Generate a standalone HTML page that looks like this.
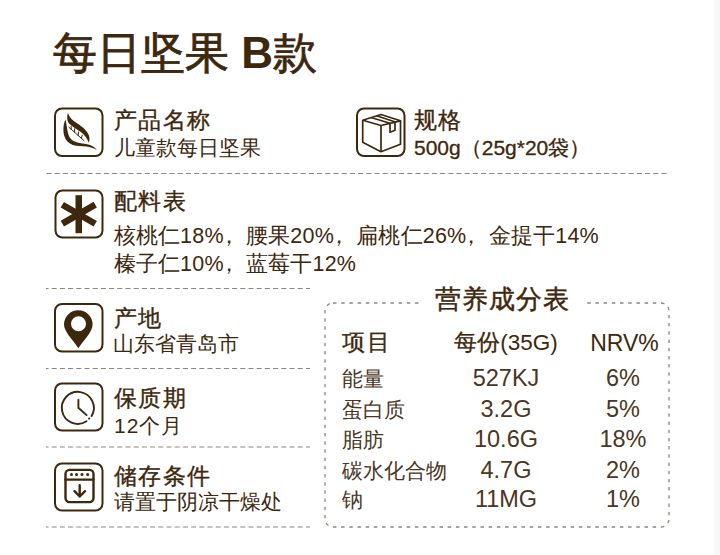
<!DOCTYPE html>
<html><head><meta charset="utf-8">
<style>
html,body{margin:0;padding:0;background:#fff;}
body{width:720px;height:555px;position:relative;overflow:hidden;font-family:"Liberation Sans",sans-serif;color:#3d280e;}
.t{position:absolute;white-space:nowrap;line-height:1;}
.title{left:53px;top:30.5px;font-size:44px;-webkit-text-stroke:0.8px #3d280e;}
.title b{-webkit-text-stroke:0;}
.lab{font-size:22.5px;letter-spacing:1.4px;-webkit-text-stroke:0.35px #3d280e;}
.sub{font-size:21px;}
.l3{font-size:21.5px;letter-spacing:0.2px;}
.ntitle{font-size:26px;letter-spacing:1.1px;-webkit-text-stroke:0.45px #3d280e;}
.th{font-size:22.5px;}
.md{-webkit-text-stroke:0.3px #3d280e;}
.td{font-size:21px;color:#4a3623;}
.num{font-size:23.5px;width:200px;color:#4a3623;}
.c{text-align:center;}
.cm{position:relative;left:-6px;}
svg{position:absolute;left:0;top:0;}
</style></head><body>
<div style="position:absolute;left:714px;top:0;width:6px;height:555px;background:#f8f8f8"></div>
<svg width="720" height="555" viewBox="0 0 720 555">
 <g fill="none" stroke="#8e877c" stroke-width="1.2">
  <line x1="46.5" y1="173.5" x2="668" y2="173.5" stroke-dasharray="5 3.2"/>
  <line x1="46" y1="288.5" x2="310" y2="288.5" stroke-dasharray="5 3.2" stroke-dashoffset="2.5"/>
  <line x1="46" y1="368.5" x2="310" y2="368.5" stroke-dasharray="5 3.2" stroke-dashoffset="2.5"/>
  <line x1="46" y1="447" x2="310" y2="447" stroke-dasharray="5 3.2" stroke-dashoffset="2.5"/>
  <line x1="46" y1="527" x2="310" y2="527" stroke-dasharray="5 3.2" stroke-dashoffset="2.5"/>
 </g>
 <rect x="322" y="295" width="352" height="240" fill="#fff"/>
 <rect x="325" y="303" width="344" height="224" rx="8" ry="8" fill="none" stroke="#8e877c" stroke-width="1.3" stroke-dasharray="3.5 4.7"/>
 <rect x="420" y="285" width="165" height="30" fill="#fff"/>
 <!-- icon boxes -->
 <g fill="none" stroke="#3d280e" stroke-width="2">
  <rect x="55" y="108.5" width="47.5" height="47.5" rx="7"/>
  <rect x="357" y="108.5" width="47.5" height="47.5" rx="7"/>
  <rect x="55.5" y="190.5" width="47" height="47" rx="7"/>
  <rect x="55" y="304" width="47.5" height="47.5" rx="7"/>
  <rect x="55" y="383.5" width="47.5" height="47" rx="7"/>
  <rect x="55" y="463.5" width="47.5" height="47" rx="7"/>
 </g>
 <!-- leaf -->
 <g fill="#3d280e">
  <path d="M67.9 112.8 C69.2 117.5 72.5 120.5 77.5 123.6 C82.5 127 87.5 131 89 135.8 C89.8 138.5 89.6 140.8 88.9 142.8 C87.4 139 85 135.3 81.5 132.6 C77.5 129.5 71.5 126.3 68.8 123.2 C66.8 120.6 66.8 116.5 67.9 112.8 Z"/>
  <path d="M65.5 119.6 C62.9 125 63 132 64.4 136.3 C66 141 68.8 143.5 72.8 145 C77 146.3 82 146 86 146.4 C90 146.9 94 148 97 150.2 C94.7 146.8 90.5 145 86 144.1 C81 143.2 77.3 143 74 141.3 C70.5 139.4 68.7 136.5 67.9 132.8 C67 128.8 66.5 124 65.5 119.6 Z"/>
 </g>
 <g fill="none" stroke="#3d280e" stroke-width="1" stroke-linecap="round">
  <path d="M68.8 127.2 L84 140.6"/>
  <path d="M71.3 129.4 L71 126.2 M74.6 132.3 L74.6 128.8 M78.2 135.5 L78.5 131.9 M81.4 138.2 L82.2 135.2"/>
 </g>
 <!-- cube -->
 <g fill="none" stroke="#3d280e" stroke-width="1.7" stroke-linejoin="round">
  <path d="M381 114.5 L362.7 120.2 L381 125.5 L400.5 120.8 Z"/>
  <path d="M362.7 120.2 L362.7 142.3 L381 151.7 L400.5 144.2 L400.5 120.8"/>
  <path d="M381 125.5 L381 151.7"/>
  <path d="M371 117.5 L390 123.3 M376.5 115.8 L395.5 122"/>
  <path d="M390 123.3 L390 132.2 L395 130.2 L395 122"/>
 </g>
 <!-- asterisk -->
 <g fill="#3d280e">
  <rect x="75.5" y="195.2" width="6.5" height="38" />
  <rect x="75.5" y="195.2" width="6.5" height="38" transform="rotate(60 78.8 214.2)"/>
  <rect x="75.5" y="195.2" width="6.5" height="38" transform="rotate(-60 78.8 214.2)"/>
 </g>
 <!-- pin -->
 <path fill="#3d280e" fill-rule="evenodd" d="M78.3 348.3 C74 341 64 332 64 324.5 A14.3 14.3 0 0 1 92.6 324.5 C92.6 332 83 341 78.3 348.3 Z M78.5 316.2 A7.5 7.5 0 1 0 78.5 331.2 A7.5 7.5 0 1 0 78.5 316.2 Z"/>
 <!-- clock -->
 <g fill="none" stroke="#3d280e" stroke-width="1.9" stroke-linecap="round">
  <path d="M86.5 421.3 A16 16 0 1 1 91.6 416"/>
  <path d="M78.4 399.6 L78.4 407.8 L86.6 415.1"/>
 </g>
 <circle cx="89.2" cy="418.6" r="1.1" fill="#3d280e"/>
 <!-- storage -->
 <g fill="none" stroke="#3d280e" stroke-width="2.4" stroke-linecap="round" stroke-linejoin="round">
  <rect x="65.5" y="469.9" width="28" height="32.2" rx="4"/>
  <path d="M65.5 479.6 L93.5 479.6"/>
  <path d="M79.7 485.3 L79.7 496.5 M74.5 491.2 L79.7 496.5 L85 491.2"/>
 </g>
 <g fill="#3d280e">
  <circle cx="71.5" cy="474.6" r="1.5"/><circle cx="76.5" cy="474.6" r="1.5"/><circle cx="82" cy="474.6" r="1.5"/><circle cx="87.7" cy="474.6" r="1.5"/>
 </g>
</svg>

<div class="t title">每日坚果 <b>B</b>款</div>

<div class="t lab" style="left:114px;top:109.5px">产品名称</div>
<div class="t sub" style="left:113.5px;top:137px">儿童款每日坚果</div>

<div class="t lab" style="left:414px;top:109.5px">规格</div>
<div class="t sub" style="left:414px;top:137px;-webkit-text-stroke:0.3px #3d280e">500g（25g*20袋）</div>

<div class="t lab" style="left:114px;top:191px">配料表</div>
<div class="t sub l3" style="left:113.5px;top:225.5px">核桃仁18%<span class="cm">，</span>腰果20%<span class="cm">，</span>扁桃仁26%<span class="cm">，</span>金提干14%</div>
<div class="t sub l3" style="left:113.5px;top:253.5px">榛子仁10%<span class="cm">，</span>蓝莓干12%</div>

<div class="t lab" style="left:114px;top:308px">产地</div>
<div class="t sub" style="left:112.5px;top:333px">山东省青岛市</div>

<div class="t lab" style="left:114px;top:388px">保质期</div>
<div class="t sub" style="left:114px;top:415px;letter-spacing:1px">12个月</div>

<div class="t lab" style="left:114px;top:466px">储存条件</div>
<div class="t sub" style="left:114px;top:491px">请置于阴凉干燥处</div>

<div class="t ntitle" style="left:434.5px;top:286px">营养成分表</div>

<div class="t th md" style="left:342px;top:331.5px;font-size:22.5px;letter-spacing:1.5px">项目</div>
<div class="t th c" style="left:406px;top:331.5px;width:200px"><span class="md">每份</span>(35G)</div>
<div class="t th c" style="left:524.5px;top:331.5px;width:200px;font-size:23px">NRV%</div>

<div class="t td" style="left:342px;top:368px">能量</div>
<div class="t td" style="left:342px;top:398.5px">蛋白质</div>
<div class="t td" style="left:342px;top:429px">脂肪</div>
<div class="t td" style="left:342px;top:459.5px">碳水化合物</div>
<div class="t td" style="left:342px;top:489px">钠</div>

<div class="t num c" style="left:406px;top:367px">527KJ</div>
<div class="t num c" style="left:406px;top:397.5px">3.2G</div>
<div class="t num c" style="left:406px;top:428px">10.6G</div>
<div class="t num c" style="left:406px;top:458.5px">4.7G</div>
<div class="t num c" style="left:406px;top:488px">11MG</div>

<div class="t num c" style="left:523px;top:367px">6%</div>
<div class="t num c" style="left:523px;top:397.5px">5%</div>
<div class="t num c" style="left:523px;top:428px">18%</div>
<div class="t num c" style="left:523px;top:458.5px">2%</div>
<div class="t num c" style="left:523px;top:488px">1%</div>
</body></html>
